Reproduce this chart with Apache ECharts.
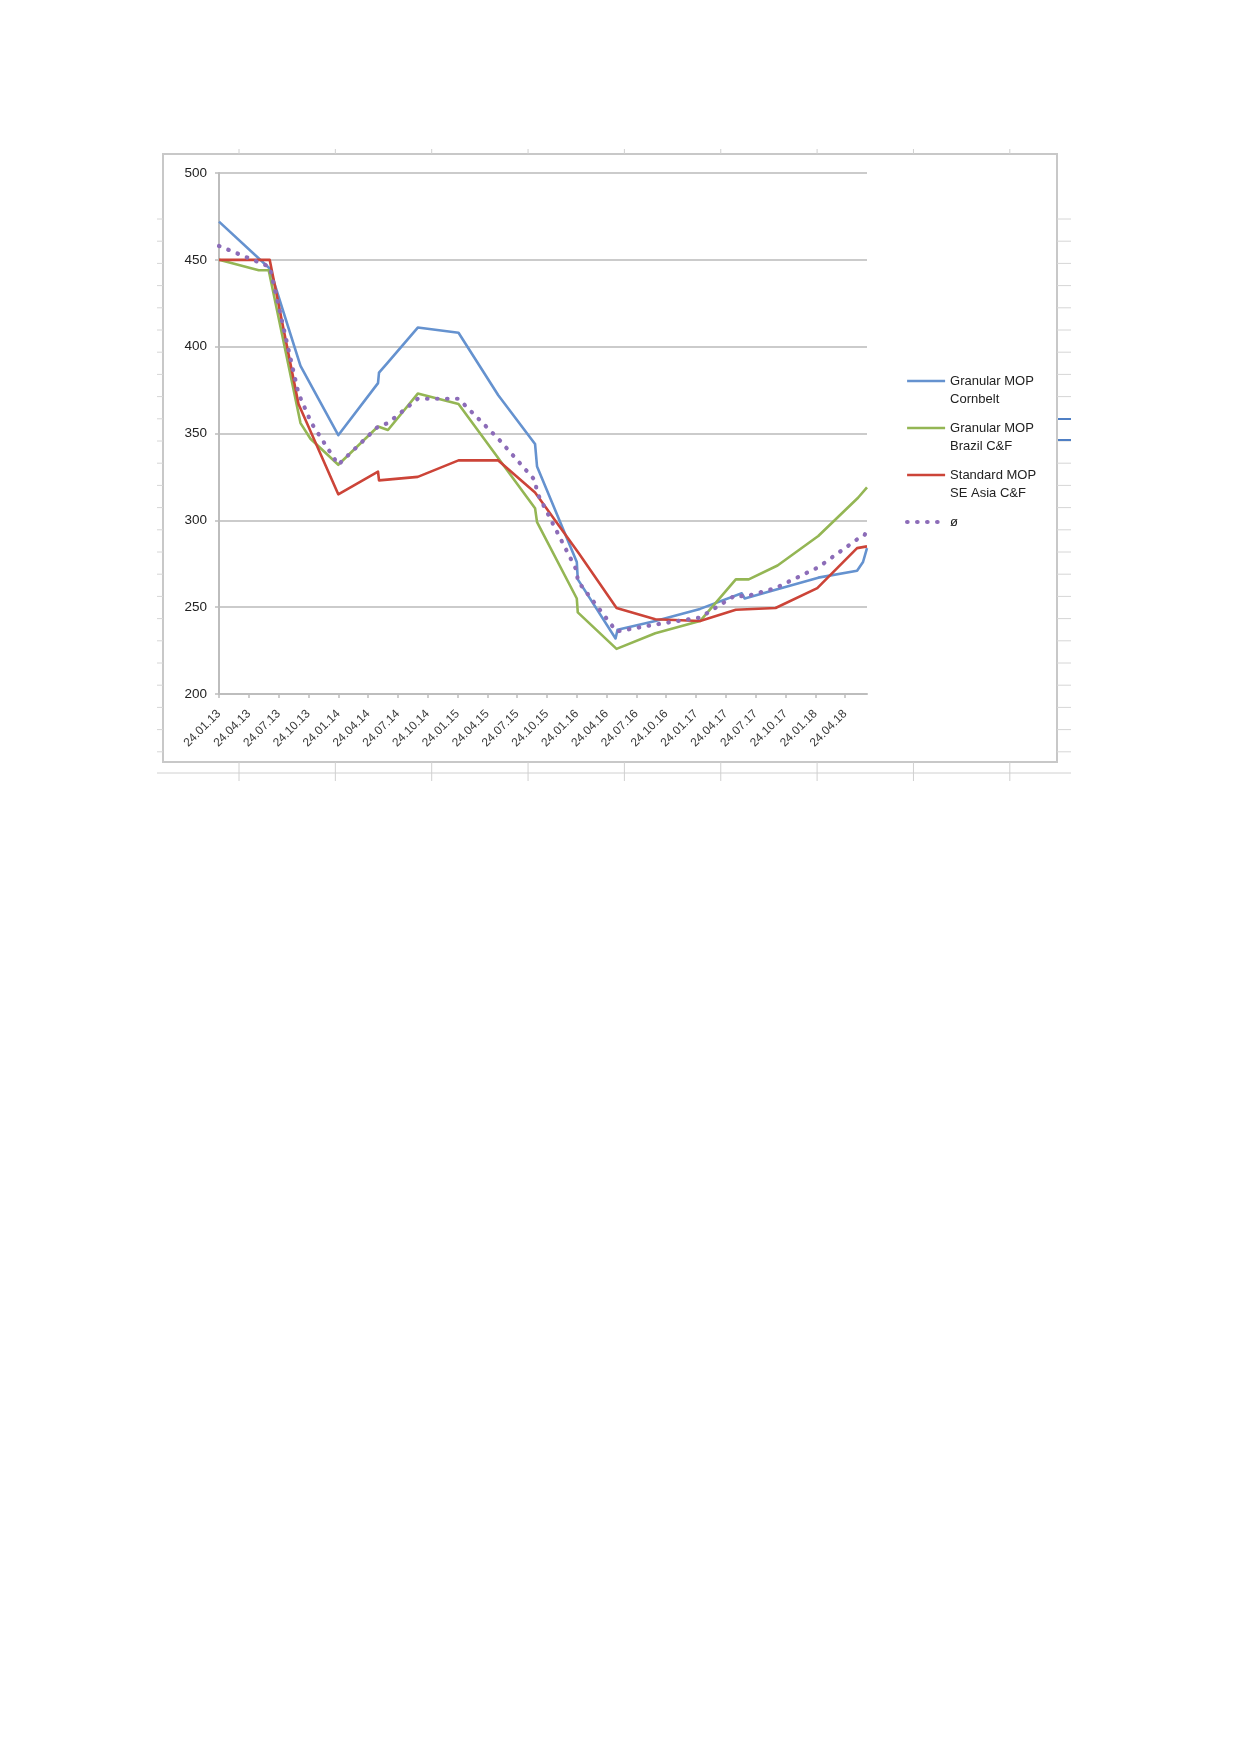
<!DOCTYPE html>
<html><head><meta charset="utf-8">
<script src="https://cdn.jsdelivr.net/npm/echarts@6/dist/echarts.min.js"></script>
<style>html,body{margin:0;padding:0;background:#fff}#c{width:1239px;height:1754px}</style>
</head><body><div id="c"></div>
<script>
// Series names and legend labels
const seriesNames = ['Granular MOP Cornbelt', 'Granular MOP Brazil C&F', 'Standard MOP SE Asia C&F', 'ø'];
const legendLabels = ['Granular MOP\nCornbelt', 'Granular MOP\nBrazil C&F', 'Standard MOP\nSE Asia C&F', 'ø'];
// x tick labels (every 3 months from 24.01.13)
const xTickLabels = ['24.01.13','24.04.13','24.07.13','24.10.13','24.01.14','24.04.14','24.07.14','24.10.14',
  '24.01.15','24.04.15','24.07.15','24.10.15','24.01.16','24.04.16','24.07.16','24.10.16',
  '24.01.17','24.04.17','24.07.17','24.10.17','24.01.18','24.04.18'];
// data: [months after 24.01.13, value]
const cornbelt = [[0,472],[5.1,445],[8.2,389],[12.0,349],[16.0,379],[16.1,385],[17.0,391],[20.0,411],
  [24.1,408],[28.1,372],[31.8,344],[32.0,331],[36.0,276],[36.1,266],[39.9,232],[40.1,237],[43.9,242],
  [48.4,249],[52.6,258],[52.9,255],[56.0,260],[60.3,267],[64.2,271],[64.8,276],[65.2,284]];
const brazil = [[0,450],[4.0,444],[5.0,444],[8.2,356],[9.2,347],[12.0,332],[16.0,354],[17.0,352],[20.0,373],
  [24.1,367],[31.8,307],[32.0,299],[36.0,255],[36.1,247],[40.0,226],[43.9,235],[48.4,242],[52.0,266],
  [53.3,266],[56.2,274],[60.3,291],[64.3,313],[65.2,319]];
const seAsia = [[0,450],[5.1,450],[8.0,367],[12.0,315],[16.0,328],[16.1,323],[20.0,325],[24.1,334.5],
  [28.1,334.5],[31.8,316],[36.2,281],[40.0,249.5],[43.9,243],[48.4,242],[52.0,248.5],[56.0,249.5],
  [60.2,261],[64.2,284],[65.2,285]];
const average = [[0,458],[5.1,446],[8.0,373],[9.3,356],[12.0,332],[16.0,354],[17.0,356],[20.0,370],
  [24.1,370],[28.1,347],[31.8,323],[32.0,316],[36.0,271],[36.1,265],[40.0,236],[43.9,240],[48.4,244],
  [52.0,257],[52.9,256],[56.0,261],[60.3,273],[64.2,289],[64.9,291],[65.2,294]];

const colors = ['#6592cf', '#94b654', '#cc4438', '#8c6cb8'];
const FONT = 'Liberation Sans';

// decorative frame pieces
const graphics = [];
graphics.push({type:'rect', shape:{x:163,y:154,width:894,height:608}, style:{fill:'none', stroke:'#c8c8c8', lineWidth:2}, z:-10});
for (let k = 0; k < 9; k++) {
  const x = 239 + 96.35 * k;
  graphics.push({type:'line', shape:{x1:x,y1:149,x2:x,y2:154}, style:{stroke:'#d0d0d0', lineWidth:1}, z:-10});
  graphics.push({type:'line', shape:{x1:x,y1:762,x2:x,y2:781}, style:{stroke:'#d0d0d0', lineWidth:1}, z:-10});
}
graphics.push({type:'line', shape:{x1:157,y1:773,x2:1071,y2:773}, style:{stroke:'#d0d0d0', lineWidth:1}, z:-10});
for (let k = 0; k < 25; k++) {
  const y = 219 + 22.2 * k;
  graphics.push({type:'line', shape:{x1:157,y1:y,x2:163,y2:y}, style:{stroke:'#d6d6d6', lineWidth:1}, z:-10});
  graphics.push({type:'line', shape:{x1:1057,y1:y,x2:1071,y2:y}, style:{stroke:'#d6d6d6', lineWidth:1}, z:-10});
}
graphics.push({type:'line', shape:{x1:1058,y1:419,x2:1071,y2:419}, style:{stroke:'#4f7fc4', lineWidth:2}, z:-9});
graphics.push({type:'line', shape:{x1:1058,y1:440,x2:1071,y2:440}, style:{stroke:'#4f7fc4', lineWidth:2}, z:-9});

const tickVals = xTickLabels.map((_, i) => i * 3);

function lineStyleFor(color, dotted) {
  return dotted
    ? {color, width:4.2, type:[0.5, 9.5], cap:'round'}
    : {color, width:2.6, join:'round'};
}
function mkSeries(name, data, color, dotted) {
  return {
    name, type:'line', data, symbol:'none', showSymbol:false, animation:false,
    lineStyle: lineStyleFor(color, dotted),
    itemStyle:{color}, z: dotted ? 5 : 3
  };
}

const chart = echarts.init(document.getElementById('c'), null, {renderer:'canvas'});
chart.setOption({
  animation:false,
  backgroundColor:'#fff',
  grid:{left:219, top:173, width:648, height:521},
  xAxis:{
    type:'value', min:0, max:65.2,
    axisLine:{show:true, lineStyle:{color:'#bdbdbd', width:2}},
    axisTick:{show:true, customValues:tickVals, length:4, lineStyle:{color:'#bdbdbd', width:1.5}},
    splitLine:{show:false},
    axisLabel:{customValues:tickVals, rotate:45, margin:18, fontFamily:FONT, fontSize:12, color:'#3a3a3a',
      formatter:(v) => xTickLabels[Math.round(v / 3)] || ''}
  },
  yAxis:{
    type:'value', min:200, max:500, interval:50,
    axisLine:{show:true, lineStyle:{color:'#bdbdbd', width:2}},
    axisTick:{show:true, length:4, lineStyle:{color:'#bdbdbd', width:1.5}},
    splitLine:{show:true, lineStyle:{color:'#cbcbcb', width:2}},
    axisLabel:{margin:12, fontFamily:FONT, fontSize:13.5, color:'#222'}
  },
  legend:{
    orient:'vertical', left:905, top:354, padding:0, itemGap:-7,
    itemWidth:38, itemHeight:14,
    itemStyle:{opacity:0},
    data: seriesNames.map((name, i) => ({name, lineStyle: lineStyleFor(colors[i], i === 3)})),
    formatter:(name) => {
      const lab = legendLabels[seriesNames.indexOf(name)];
      return lab.indexOf('\n') >= 0 ? '\n' + lab : '\n' + lab + '\n';
    },
    textStyle:{fontFamily:FONT, fontSize:13, color:'#222', lineHeight:18}
  },
  graphic: graphics,
  series:[
    mkSeries(seriesNames[0], cornbelt, colors[0], false),
    mkSeries(seriesNames[1], brazil, colors[1], false),
    mkSeries(seriesNames[2], seAsia, colors[2], false),
    mkSeries(seriesNames[3], average, colors[3], true)
  ]
});
</script></body></html>
